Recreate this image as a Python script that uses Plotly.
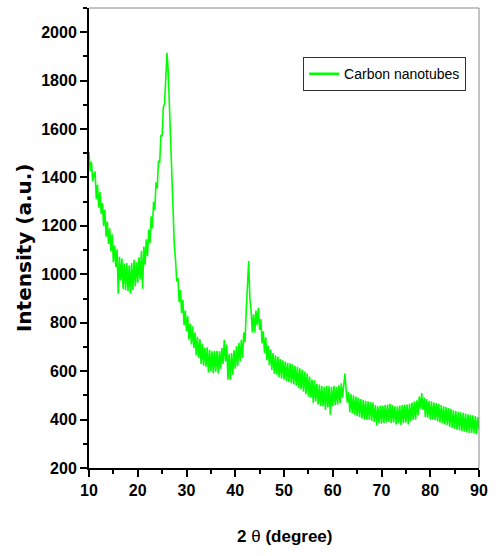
import plotly.graph_objects as go

THETA_START = 10.0
THETA_STEP = 0.25

intensity = [
    1505, 1425, 1465, 1385,   # 10
    1410, 1425, 1310, 1370,   # 11
    1275, 1340, 1250, 1295,   # 12
    1200, 1267, 1155, 1218,   # 13
    1125, 1190, 1095, 1165,   # 14
    1050, 1120, 1030, 1103,   # 15
    920, 1072, 975, 1065,     # 16
    940, 1045, 935, 1047,     # 17
    930, 1037, 920, 1047,     # 18
    935, 1060, 950, 1050,     # 19
    965, 1070, 980, 1097,     # 20
    940, 1115, 1040, 1145,    # 21
    1075, 1185, 1130, 1240,   # 22
    1190, 1300, 1265, 1380,   # 23
    1355, 1470, 1460, 1575,   # 24
    1570, 1690, 1705, 1825,   # 25
    1915, 1840, 1690, 1545,   # 26
    1395, 1260, 1120, 1060,   # 27
    970, 985, 885, 935,       # 28
    840, 895, 790, 850,       # 29
    765, 827, 730, 797,       # 30
    710, 785, 695, 760,       # 31
    665, 742, 655, 733,       # 32
    630, 714, 623, 698,       # 33
    618, 699, 595, 687,       # 34
    600, 682, 590, 684,       # 35
    598, 684, 590, 682,       # 36
    610, 695, 630, 730,       # 37
    640, 710, 565, 672,       # 38
    565, 675, 585, 687,       # 39
    610, 703, 620, 717,       # 40
    640, 730, 655, 760,       # 41
    720, 845, 960, 1055,      # 42
    900, 850, 760, 835,       # 43
    760, 850, 790, 862,       # 44
    770, 815, 715, 765,       # 45
    675, 740, 645, 705,       # 46
    625, 690, 605, 675,       # 47
    590, 665, 585, 660,       # 48
    575, 650, 570, 645,       # 49
    565, 640, 560, 635,       # 50
    555, 632, 550, 628,       # 51
    545, 622, 540, 618,       # 52
    530, 612, 525, 605,       # 53
    515, 598, 505, 590,       # 54
    495, 578, 490, 565,       # 55
    470, 562, 475, 548,       # 56
    462, 545, 455, 538,       # 57
    455, 535, 440, 540,       # 58
    450, 538, 420, 535,       # 59
    455, 540, 460, 535,       # 60
    462, 542, 468, 550,       # 61
    490, 560, 590, 520,       # 62
    470, 515, 430, 505,       # 63
    425, 500, 420, 495,       # 64
    415, 490, 410, 485,       # 65
    405, 482, 400, 478,       # 66
    400, 475, 398, 472,       # 67
    395, 470, 390, 460,       # 68
    375, 455, 385, 458,       # 69
    383, 458, 385, 460,       # 70
    388, 462, 390, 465,       # 71
    385, 460, 388, 455,       # 72
    380, 455, 385, 458,       # 73
    378, 460, 385, 462,       # 74
    388, 462, 380, 465,       # 75
    393, 470, 398, 475,       # 76
    400, 480, 418, 495,       # 77
    445, 510, 440, 490,       # 78
    410, 485, 408, 478,       # 79
    400, 475, 400, 470,       # 80
    398, 468, 392, 465,       # 81
    388, 460, 385, 455,       # 82
    380, 452, 378, 448,       # 83
    370, 445, 365, 438,       # 84
    362, 435, 358, 432,       # 85
    355, 430, 352, 428,       # 86
    350, 425, 348, 422,       # 87
    345, 420, 345, 418,       # 88
    345, 415, 340, 410,       # 89
    360,                      # 90
]
two_theta = [THETA_START + i * THETA_STEP for i in range(len(intensity))]

x_ticks = [10, 20, 30, 40, 50, 60, 70, 80, 90]
y_ticks = [200, 400, 600, 800, 1000, 1200, 1400, 1600, 1800, 2000]
series_name = "Carbon nanotubes"
x_title = "2 <span style='font-weight:normal'>θ</span> (degree)"
y_title = "Intensity (a.u.)"

SANS = "Liberation Sans, Arial, sans-serif"
WIDE = "DejaVu Sans, Verdana, sans-serif"
GREEN = "#00FF00"

fig = go.Figure()
fig.add_trace(go.Scatter(
    x=two_theta, y=intensity, mode="lines", name=series_name,
    line=dict(color=GREEN, width=1.6), showlegend=False,
))
# legend-only entry (thicker sample line, as in the reference legend)
fig.add_trace(go.Scatter(
    x=[None], y=[None], mode="lines", name=series_name,
    line=dict(color=GREEN, width=2.5), showlegend=True,
))

axis_common = dict(
    showline=True, linecolor="black", linewidth=2, mirror=False,
    ticks="outside", ticklen=7, tickwidth=1.5, tickcolor="black",
    showgrid=False, zeroline=False,
    tickfont=dict(family=SANS, size=16, color="black", weight="bold"),
)

fig.update_xaxes(
    range=[10, 90], tickvals=x_ticks,
    minor=dict(dtick=5, ticks="outside", ticklen=4, tickwidth=1.5, tickcolor="black"),
    **axis_common,
)
fig.update_yaxes(
    range=[200, 2100], tickvals=y_ticks,
    minor=dict(dtick=100, ticks="outside", ticklen=4, tickwidth=1.5, tickcolor="black"),
    **axis_common,
)

# axis titles placed as annotations for exact positioning
fig.add_annotation(text=x_title, xref="paper", yref="paper", x=0.5, y=-0.148,
                   xanchor="center", yanchor="middle", showarrow=False,
                   font=dict(family=SANS, size=17, color="black", weight="bold"))
fig.add_annotation(text=y_title, xref="paper", yref="paper", x=-0.167, y=0.48,
                   xanchor="center", yanchor="middle", showarrow=False, textangle=-90,
                   font=dict(family=WIDE, size=20, color="black", weight="bold"))

# thin grey frame on top and right
fig.add_shape(type="line", xref="paper", yref="paper", x0=0, x1=1, y0=1, y1=1,
              line=dict(color="#888888", width=1))
fig.add_shape(type="line", xref="paper", yref="paper", x0=1, x1=1, y0=0, y1=1,
              line=dict(color="#888888", width=1))

fig.update_layout(
    width=498, height=556,
    margin=dict(l=89, r=19, t=8, b=88),
    paper_bgcolor="white", plot_bgcolor="white",
    showlegend=True,
    legend=dict(
        x=0.549, y=0.893, xanchor="left", yanchor="top",
        bordercolor="#333333", borderwidth=1, bgcolor="white",
        font=dict(family=SANS, size=14, color="black"),
        itemwidth=30, tracegroupgap=0,
    ),
)

fig.write_html("out.html")
